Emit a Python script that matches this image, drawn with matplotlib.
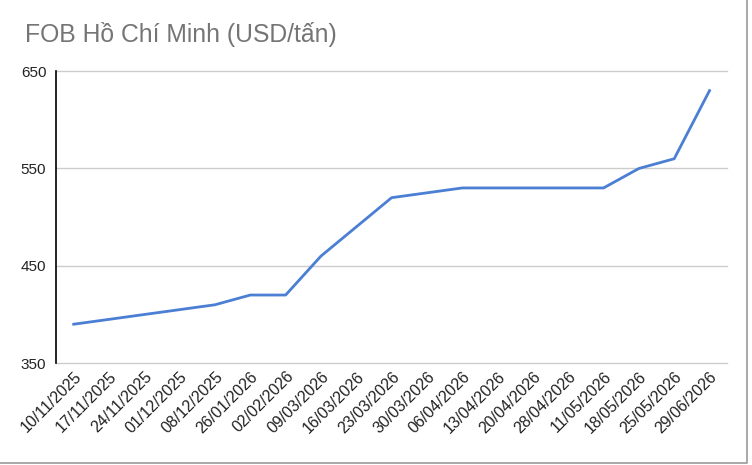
import matplotlib
matplotlib.use("Agg")
import matplotlib.pyplot as plt
from matplotlib.lines import Line2D

plt.rcParams['font.family'] = ['Liberation Sans', 'DejaVu Sans']

dates = ["10/11/2025", "17/11/2025", "24/11/2025", "01/12/2025", "08/12/2025",
         "26/01/2026", "02/02/2026", "09/03/2026", "16/03/2026", "23/03/2026",
         "30/03/2026", "06/04/2026", "13/04/2026", "20/04/2026", "28/04/2026",
         "11/05/2026", "18/05/2026", "25/05/2026", "29/06/2026"]
prices = [390, 395, 400, 405, 410,
          420, 420, 460, 490, 520,
          525, 530, 530, 530, 530,
          530, 550, 560, 630]
yticks = [350, 450, 550, 650]

fig = plt.figure(figsize=(7.52, 4.65), dpi=100)
ax = fig.add_axes([0.0745, 0.219, 0.8925, 0.628])

x = list(range(len(dates)))
ax.plot(x, prices, color='#4a7fd4', lw=2, solid_joinstyle='round')

ax.set_xlim(-0.5, len(dates) - 0.5)
ax.set_ylim(350, 650)
ax.set_yticks(yticks)
ax.set_yticklabels([str(v) for v in yticks], fontsize=11, color='#222222')
ax.set_xticks(x)
ax.set_xticklabels(dates, rotation=45, ha='right', va='top', rotation_mode='anchor',
                   fontsize=11.5, color='#222222')
ax.tick_params(axis='x', length=0, pad=4)
ax.tick_params(axis='y', length=0, pad=7)

ax.grid(axis='y', color='#cccccc', lw=1)
for gl in ax.get_ygridlines():
    gl.set_clip_on(False)
ax.set_axisbelow(True)
for s in ['top', 'right', 'bottom']:
    ax.spines[s].set_visible(False)
ax.spines['left'].set_color('#000000')
ax.spines['left'].set_linewidth(1.2)

fig.text(0.033, 0.925, "FOB Hồ Chí Minh (USD/tấn)", fontsize=17.8, color='#757575',
         ha='left', va='center')

# gray frame on the right and bottom edges
fig.lines.append(Line2D([0, 0.993, 0.993], [0.004, 0.004, 1.0], transform=fig.transFigure,
                        color='#999999', lw=1.2))

fig.savefig("out.png", dpi=100)
